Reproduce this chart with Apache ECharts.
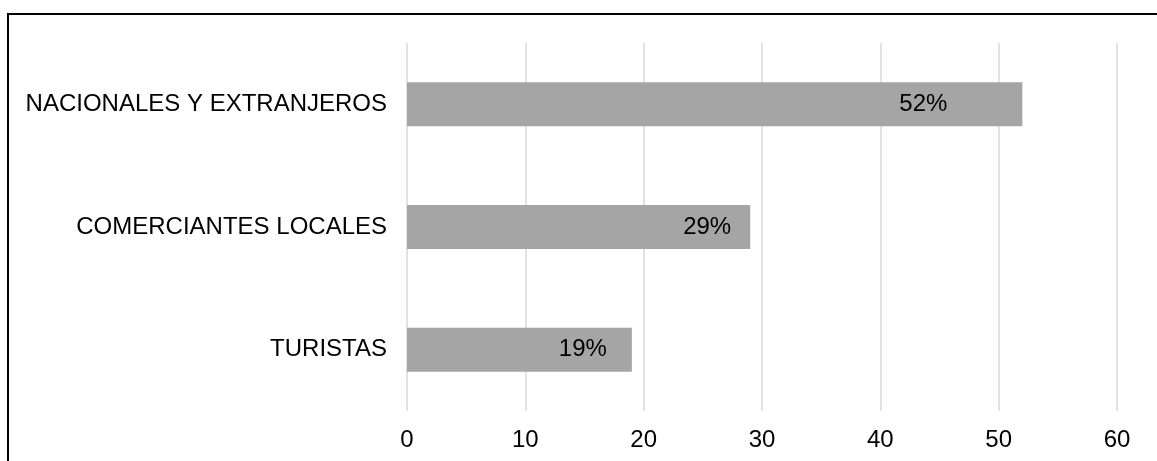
<!DOCTYPE html>
<html>
<head>
<meta charset="utf-8">
<script src="https://cdn.jsdelivr.net/npm/echarts@6/dist/echarts.min.js"></script>
<style>
  html, body { margin: 0; padding: 0; background: #fff; overflow: hidden; }
  #chart { position: absolute; left: 0; top: 0; width: 1157px; height: 461px; }
  #frame { position: absolute; left: 7px; top: 13px; width: 1200px; height: 500px;
           border-left: 2px solid #000; border-top: 2px solid #000; pointer-events: none; }
</style>
</head>
<body>
<div id="chart"></div>
<div id="frame"></div>
<script>
const categories = ['TURISTAS', 'COMERCIANTES LOCALES', 'NACIONALES Y EXTRANJEROS'];
const values = [19, 29, 52];
const tickLabels = ['0', '10', '20', '30', '40', '50', '60'];

const labelDistance = [25, 19, 75];

const chart = echarts.init(document.getElementById('chart'), null, { renderer: 'canvas' });
const font = 'Liberation Sans, Arial, sans-serif';

chart.setOption({
  animation: false,
  grid: { left: 407, right: 40, top: 43, bottom: 50, containLabel: false },
  xAxis: {
    type: 'value',
    min: 0,
    max: 60,
    interval: 10,
    axisLine: { show: false },
    axisTick: { show: false },
    splitLine: { show: true, lineStyle: { color: '#D9D9D9', width: 1.5 } },
    axisLabel: {
      color: '#000', fontFamily: font, fontSize: 24, margin: 17,
      formatter: (v) => tickLabels[Math.round(v / 10)]
    }
  },
  yAxis: {
    type: 'category',
    data: categories,
    axisLine: { show: false },
    axisTick: { show: false },
    splitLine: { show: false },
    axisLabel: { color: '#000', fontFamily: font, fontSize: 24, margin: 20 }
  },
  series: [{
    type: 'bar',
    barWidth: 44,
    itemStyle: { color: '#A5A5A5' },
    label: {
      show: true,
      position: 'insideRight',
      color: '#000',
      fontFamily: font,
      fontSize: 24,
      formatter: '{c}%'
    },
    data: values.map((v, i) => ({ value: v, label: { distance: labelDistance[i] } }))
  }]
});
</script>
</body>
</html>
